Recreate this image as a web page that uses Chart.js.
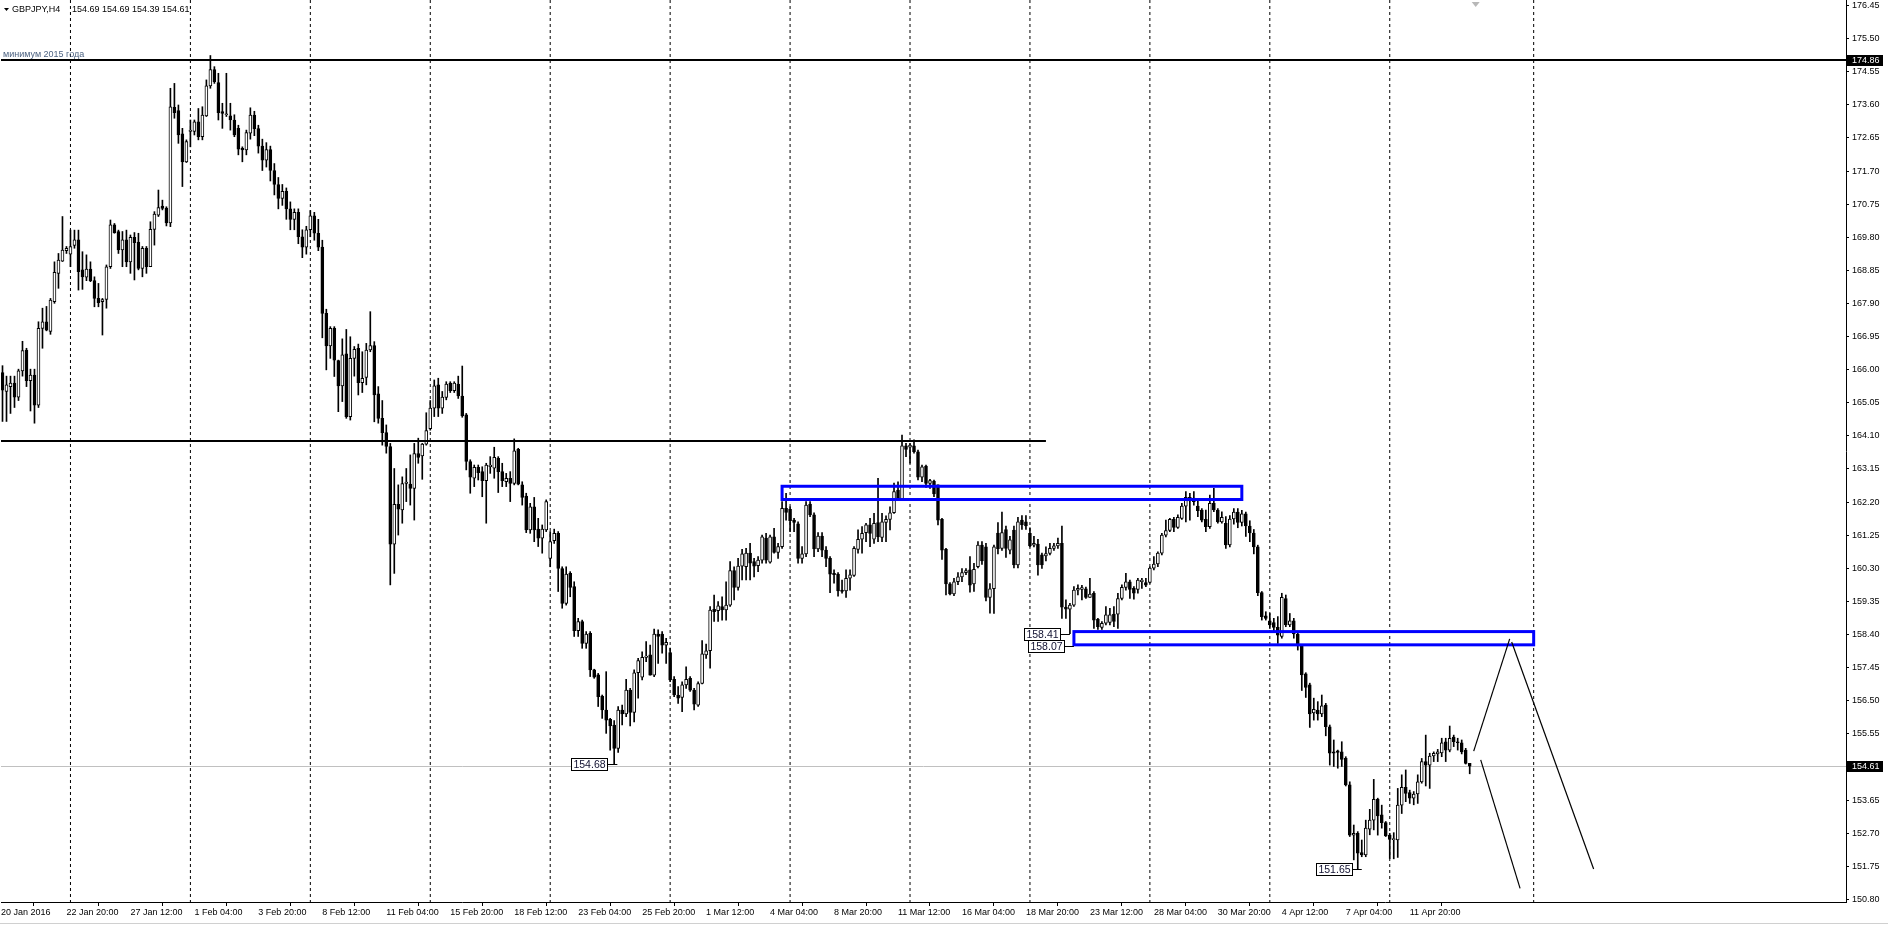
<!DOCTYPE html>
<html>
<head>
<meta charset="utf-8">
<script src="https://cdn.jsdelivr.net/npm/chart.js@4.4.1/dist/chart.umd.min.js"></script>
<style>
  html, body { margin: 0; padding: 0; background: #fff; overflow: hidden; }
  canvas { display: block; }
</style>
</head>
<body>
<canvas id="chart" width="1888" height="926"></canvas>
<script>
// ─── GBPJPY, H4 — свечи (индекс бара 1 = первый видимый бар от 20 Jan 2016) ───

const FIRST_BAR = 1;

const OPEN = [
  165.90,165.36,165.50,165.60,165.20,165.95,166.55,165.67,165.83,164.97,
  167.17,167.36,167.08,167.94,168.75,169.10,169.40,169.30,169.55,169.71,
  168.85,168.64,168.87,168.54,168.03,167.94,168.00,168.94,170.14,169.95,
  169.42,169.71,169.08,169.78,169.65,168.89,169.47,168.94,170.01,170.42,
  170.68,170.62,170.20,173.51,173.42,172.75,171.95,172.82,172.82,173.10,
  172.67,173.27,174.13,174.60,174.22,173.39,173.30,173.27,173.15,172.91,
  172.34,172.29,172.77,173.29,172.90,172.40,172.00,172.30,171.70,171.30,
  170.90,171.10,170.60,170.30,170.50,169.80,169.50,170.00,170.40,169.90,
  169.50,167.60,166.67,167.17,166.25,165.52,166.44,164.64,166.31,166.60,
  165.61,165.76,166.55,166.68,165.29,164.59,164.18,163.78,160.98,162.12,
  161.96,162.72,162.70,162.58,163.58,163.51,163.85,164.29,164.88,165.55,
  164.88,165.19,165.60,165.38,165.57,165.23,164.69,163.35,162.87,163.18,
  163.06,162.80,163.20,163.16,163.44,163.06,162.77,162.87,162.72,163.70,
  162.68,162.36,161.39,162.05,161.41,161.15,161.39,160.57,161.08,161.29,
  160.28,159.28,160.14,159.76,158.50,158.76,158.13,158.42,157.37,157.23,
  156.62,156.22,155.95,155.79,155.12,156.22,156.11,156.79,156.15,157.29,
  157.16,157.73,157.80,157.22,158.40,158.40,158.08,157.87,157.10,156.65,
  156.58,156.94,157.13,156.79,156.36,156.98,157.80,157.92,159.11,159.07,
  159.19,159.09,159.23,160.22,159.74,160.35,160.33,160.72,160.48,160.36,
  160.52,161.15,160.46,161.19,160.74,160.91,162.01,161.98,161.67,161.56,
  160.57,160.70,162.13,161.82,160.84,161.21,160.81,160.57,160.14,160.12,
  159.66,159.64,160.00,160.08,160.83,161.12,161.31,161.53,161.12,161.60,
  161.17,161.60,161.69,161.88,162.53,162.27,163.80,163.76,163.80,163.63,
  162.90,163.22,162.72,162.79,162.68,161.69,160.83,159.84,159.55,159.90,
  160.04,160.16,160.24,159.84,160.33,160.95,160.90,159.45,159.70,161.30,
  160.86,161.40,160.81,161.38,160.38,161.67,161.62,161.29,160.95,160.98,
  160.67,160.64,160.71,160.86,160.93,161.00,159.17,159.11,159.23,159.66,
  159.68,159.70,159.45,159.57,158.82,158.59,158.71,158.73,158.97,158.97,
  159.42,159.74,159.90,159.71,159.68,159.90,159.88,159.88,160.29,160.41,
  160.72,161.24,161.37,161.69,161.46,161.72,162.07,162.32,162.30,162.07,
  161.96,161.69,161.48,162.15,161.96,161.62,161.58,160.96,161.70,161.90,
  161.60,161.85,161.50,161.30,160.90,159.59,158.92,158.78,158.73,158.59,
  158.33,159.42,158.66,158.78,158.40,158.06,157.26,156.94,156.14,156.22,
  156.11,156.36,155.74,155.02,155.05,155.02,154.83,154.07,152.63,152.68,
  152.13,152.06,152.80,153.06,153.66,153.21,152.99,152.63,152.50,152.49,
  153.49,154.00,153.85,153.69,153.81,154.16,154.74,154.64,154.90,154.96,
  154.99,155.31,155.07,155.44,155.31,155.28,155.07,154.69
];

const HIGH = [
  166.10,165.80,165.80,165.80,166.00,166.80,166.60,166.00,166.00,167.36,
  167.75,167.80,168.03,169.08,169.32,170.38,169.52,169.99,169.99,169.99,
  169.37,169.28,169.08,168.65,168.46,168.03,168.99,170.28,170.18,169.99,
  169.95,169.99,169.85,169.92,169.90,169.52,169.52,170.23,170.52,171.14,
  170.85,170.66,174.06,174.20,173.58,172.91,172.58,173.15,173.15,173.48,
  173.53,174.30,175.00,174.68,174.49,173.63,174.49,173.63,173.30,173.00,
  172.38,172.86,173.50,173.40,173.00,172.60,172.50,172.40,171.90,171.50,
  171.30,171.20,170.80,170.60,170.60,170.00,170.10,170.55,170.50,170.30,
  169.70,167.72,167.22,167.22,166.26,166.87,167.14,166.93,166.65,166.72,
  166.50,166.74,167.65,166.79,165.50,165.10,164.40,163.87,163.15,162.68,
  162.91,163.15,163.54,163.87,164.02,163.87,164.75,165.10,165.69,165.74,
  165.36,165.64,165.64,165.64,165.80,166.09,164.73,163.40,163.25,163.25,
  163.20,163.30,163.49,163.76,163.49,163.30,163.01,163.06,164.00,163.73,
  162.77,162.44,162.15,162.32,161.72,161.53,162.25,161.34,161.41,161.34,
  160.33,160.33,160.19,159.90,158.85,158.80,158.47,158.47,157.39,157.27,
  156.65,157.32,155.98,155.92,156.32,156.36,157.10,156.84,157.37,157.70,
  157.89,158.18,158.08,158.54,158.52,158.47,158.28,158.00,157.18,156.89,
  157.03,157.46,157.18,156.84,157.03,158.21,158.11,159.19,159.52,159.33,
  159.47,159.90,160.48,160.33,160.57,160.83,160.86,161.00,160.57,160.62,
  161.24,161.29,161.24,161.43,161.00,162.20,162.44,162.05,161.72,161.62,
  160.91,162.20,162.20,161.88,161.31,161.31,160.91,160.62,160.24,160.16,
  159.95,160.24,160.24,160.91,161.39,161.48,161.58,161.72,161.86,162.87,
  161.86,161.79,162.05,162.73,162.77,164.11,163.87,163.87,163.97,163.68,
  163.25,163.25,162.84,162.82,162.68,161.72,160.86,159.88,160.00,160.16,
  160.28,160.28,160.62,160.43,161.05,161.05,161.00,159.85,160.95,161.60,
  161.90,161.50,161.20,161.50,161.75,161.80,161.80,161.45,161.20,161.12,
  160.72,160.90,161.00,161.00,161.15,161.50,159.38,159.28,159.76,159.81,
  159.80,159.75,160.00,159.62,158.85,158.76,159.19,159.14,159.19,159.57,
  159.81,160.14,159.95,159.76,160.00,160.00,160.00,160.33,160.62,160.76,
  161.29,161.67,161.72,161.75,161.82,162.15,162.49,162.44,162.49,162.25,
  162.00,161.96,162.39,162.58,162.00,161.91,161.77,161.80,162.00,162.00,
  161.95,161.90,161.65,161.40,160.95,159.62,159.04,158.99,158.85,158.90,
  159.57,159.52,158.99,158.85,158.47,158.09,157.29,156.99,156.56,156.46,
  156.65,156.41,155.79,155.36,155.07,155.31,154.88,154.16,152.92,152.73,
  152.49,153.06,153.37,154.23,153.69,153.49,153.02,152.68,152.70,153.97,
  154.36,154.50,153.92,153.88,154.36,154.83,155.50,154.98,155.02,155.09,
  155.41,155.41,155.76,155.50,155.41,155.36,155.12,154.69
];

const LOW = [
  164.50,164.50,164.73,164.90,165.10,165.80,165.50,164.80,164.45,164.90,
  166.60,167.10,167.00,167.89,168.32,169.09,169.32,168.94,169.47,168.27,
  168.29,168.54,168.51,167.79,167.79,166.98,167.75,168.89,169.90,169.32,
  168.94,168.94,168.75,168.56,168.85,168.65,168.75,168.94,169.56,170.38,
  170.57,170.11,170.09,173.20,172.48,171.24,171.93,172.38,172.72,172.58,
  172.58,173.25,174.06,174.20,173.15,172.91,173.25,172.86,172.67,172.15,
  171.95,172.15,172.60,172.70,172.20,171.70,171.80,171.40,171.00,170.60,
  170.70,170.30,170.00,170.00,169.60,169.20,169.30,169.80,169.70,169.40,
  166.90,165.98,166.31,165.79,164.78,165.07,164.59,164.54,165.80,165.26,
  165.33,165.55,166.50,164.49,164.45,163.82,163.59,159.81,160.14,161.24,
  161.58,162.20,162.10,161.67,163.30,162.84,163.82,164.25,164.64,164.64,
  164.73,165.12,165.33,165.33,165.16,164.62,163.11,162.44,162.63,162.82,
  162.34,161.58,163.01,162.87,162.46,162.63,162.63,162.20,162.68,162.68,
  162.10,161.31,161.29,161.05,160.91,160.72,161.34,160.33,161.00,159.62,
  159.14,159.23,159.47,158.33,158.33,157.99,157.99,157.18,157.13,156.32,
  155.98,155.55,155.07,154.68,155.00,155.79,156.03,155.76,155.88,156.56,
  157.08,157.61,157.22,157.18,157.56,157.85,157.56,157.03,156.60,156.41,
  156.17,156.84,156.75,156.22,156.32,156.97,157.70,157.42,158.76,158.76,
  158.80,158.80,159.19,159.38,159.66,159.95,159.95,159.95,160.04,160.19,
  160.43,160.43,160.43,160.72,160.57,160.86,161.67,161.34,161.34,160.43,
  160.43,160.62,161.77,160.62,160.76,160.62,160.33,159.59,159.86,159.49,
  159.57,159.45,159.66,160.05,160.72,160.72,161.05,160.91,161.00,161.05,
  161.05,161.05,161.39,161.86,162.25,162.25,163.49,163.30,163.59,162.82,
  162.77,162.61,162.58,162.34,161.53,160.54,159.52,159.52,159.50,159.82,
  159.90,160.10,159.60,159.62,160.30,160.40,159.35,159.00,158.99,160.70,
  160.80,160.60,160.70,160.30,160.30,161.40,161.40,160.90,160.90,160.09,
  160.28,160.50,160.67,160.80,160.86,158.85,158.85,158.41,159.19,159.52,
  159.38,159.42,159.45,158.56,158.53,158.53,158.66,158.66,158.61,158.56,
  159.38,159.66,159.42,159.40,159.57,159.71,159.76,159.86,160.24,160.33,
  160.67,161.19,161.34,161.34,161.43,161.69,161.62,161.67,162.10,161.77,
  161.62,161.34,161.43,161.91,161.58,161.58,160.86,160.90,161.55,161.45,
  161.50,161.20,161.05,160.70,159.50,158.80,158.80,158.56,158.47,158.13,
  158.28,158.61,158.61,158.28,157.94,156.78,156.58,155.72,155.93,155.93,
  156.03,155.48,154.64,154.60,154.55,154.60,154.04,152.59,151.92,151.65,
  152.01,152.01,152.64,152.78,152.63,152.83,152.59,151.96,151.95,151.99,
  153.25,153.59,153.54,153.50,153.54,154.12,154.04,153.97,154.74,154.74,
  154.88,154.74,155.02,155.17,155.07,154.96,154.67,154.39
];

const CLOSE = [
  165.40,165.55,165.60,165.20,165.95,166.53,165.67,165.83,164.97,167.17,
  167.36,167.12,167.98,168.78,169.13,169.42,169.47,169.52,169.71,168.80,
  168.65,168.87,168.54,168.03,167.91,168.00,168.94,170.14,169.92,169.42,
  169.71,169.08,169.78,169.63,168.89,169.47,168.94,170.01,170.45,170.64,
  170.61,170.20,173.53,173.36,172.72,171.95,172.53,172.86,173.10,172.67,
  173.29,174.13,174.60,174.25,173.36,173.34,173.31,173.15,172.72,172.31,
  172.29,172.79,173.29,172.90,172.40,172.00,172.30,171.70,171.30,170.90,
  171.10,170.60,170.30,170.50,169.80,169.50,170.00,170.40,169.90,169.50,
  167.60,166.67,167.17,166.26,165.52,166.41,164.64,166.31,166.57,165.61,
  165.74,166.55,166.68,165.26,164.59,164.18,163.78,160.98,162.12,161.98,
  162.72,162.76,162.58,163.58,163.47,163.85,164.24,164.88,165.52,164.88,
  165.20,165.57,165.38,165.60,165.23,164.66,163.35,162.90,163.18,163.03,
  162.80,163.25,163.25,163.47,163.06,162.80,162.87,162.72,163.66,162.70,
  162.32,161.39,162.05,161.39,161.15,161.41,162.20,161.05,161.29,160.28,
  159.28,160.12,159.74,158.50,158.76,158.13,158.40,157.37,157.16,156.60,
  156.22,155.93,155.76,155.12,156.22,156.11,156.79,156.15,157.29,157.64,
  157.73,157.77,157.22,158.40,158.33,158.08,158.16,157.08,156.65,156.56,
  156.94,157.10,156.79,156.39,156.98,157.83,157.92,159.09,159.04,159.21,
  159.09,159.23,160.22,159.74,160.35,160.70,160.72,160.43,160.35,160.52,
  161.19,160.52,161.19,160.74,160.91,162.01,161.89,161.65,161.60,160.57,
  160.70,162.10,161.82,160.84,161.21,160.81,160.57,160.12,160.10,159.64,
  159.62,160.00,160.10,160.86,161.12,161.29,161.53,161.29,161.58,161.19,
  161.62,161.69,161.88,162.49,162.27,163.80,163.70,163.82,163.63,162.90,
  163.20,162.72,162.80,162.42,161.67,160.81,159.84,159.55,159.90,160.04,
  160.16,160.22,159.80,160.26,160.95,160.50,159.45,159.70,160.90,160.85,
  161.31,160.86,161.10,160.38,161.62,161.53,161.50,160.93,161.00,160.38,
  160.38,160.71,160.86,160.93,161.00,159.17,159.11,159.23,159.66,159.71,
  159.73,159.45,159.55,158.80,158.61,158.71,158.95,158.95,158.76,159.42,
  159.74,159.90,159.68,159.57,159.95,159.95,159.80,160.29,160.41,160.72,
  161.24,161.37,161.69,161.46,161.75,162.07,162.32,162.22,162.20,161.94,
  161.67,161.48,162.15,161.96,161.62,161.75,160.96,161.70,161.90,161.60,
  161.85,161.50,161.30,160.90,159.59,158.90,158.85,158.66,158.59,158.37,
  159.45,158.66,158.78,158.40,158.06,157.23,156.87,156.11,156.24,156.11,
  156.34,155.74,154.98,154.98,155.00,154.80,154.07,152.63,152.68,152.11,
  152.06,152.83,153.06,153.66,153.18,152.99,152.61,152.51,152.50,153.49,
  154.00,153.83,153.69,153.81,154.16,154.74,154.64,154.90,154.98,155.02,
  155.28,155.07,155.41,155.31,155.28,155.02,154.69,154.61
];

// ─── Шкала времени: подписи через каждые 16 баров ────────────────────────────
const TIME_TICKS = [0.625, 17, 33, 49, 65, 81, 97, 113, 129, 145, 161, 177,
  193, 209, 225, 241, 257, 273, 289, 305, 321, 337, 353];
const TIME_LABELS = ["20 Jan 2016", "22 Jan 20:00", "27 Jan 12:00", "1 Feb 04:00",
  "3 Feb 20:00", "8 Feb 12:00", "11 Feb 04:00", "15 Feb 20:00", "18 Feb 12:00",
  "23 Feb 04:00", "25 Feb 20:00", "1 Mar 12:00", "4 Mar 04:00", "8 Mar 20:00",
  "11 Mar 12:00", "16 Mar 04:00", "18 Mar 20:00", "23 Mar 12:00", "28 Mar 04:00",
  "30 Mar 20:00", "4 Apr 12:00", "7 Apr 04:00", "11 Apr 20:00"];

// понедельники — вертикальная сетка
const WEEK_STARTS = [18, 48, 78, 108, 138, 168, 198, 228, 258, 288, 318, 348, 384];

// ─── Шкала цены ──────────────────────────────────────────────────────────────
const PRICE_TICKS = [150.80, 151.75, 152.70, 153.65, 154.60, 155.55, 156.50,
  157.45, 158.40, 159.35, 160.30, 161.25, 162.20, 163.15, 164.10, 165.05,
  166.00, 166.95, 167.90, 168.85, 169.80, 170.75, 171.70, 172.65, 173.60,
  174.55, 175.50, 176.45];

const X_MIN = 0.625, X_MAX = 462.125;
const Y_MIN = 150.711, Y_MAX = 176.593;

// ─── Объекты на графике ──────────────────────────────────────────────────────
const LEVEL_2015 = 174.86;
const LEVEL_2015_TEXT = "минимум 2015 года";
const SUPPORT_LEVEL = 163.94;
const SUPPORT_END_BAR = 262;
const BID = 154.61;
const HEADER = ["GBPJPY,H4", "154.69 154.69 154.39 154.61"];

// [бар начала, бар конца, нижняя цена, верхняя цена]
const ZONES = [
  [196, 311, 162.26, 162.64],
  [269, 384, 158.09, 158.47]
];

// [бар1, цена1, бар2, цена2]
const FORECAST_LINES = [
  [369, 155.04, 378, 158.26],
  [378.5, 158.17, 399, 151.66],
  [370.75, 154.79, 380.6, 151.10]
];

// [бар привязки, цена]
const PRICE_TAGS = [
  [154.8, 154.68],
  [268, 158.41],
  [269, 158.07],
  [341, 151.65]
];

const FONT = "Liberation Sans";

// ─── Данные для Chart.js ─────────────────────────────────────────────────────
const barIdx = OPEN.map((o, k) => FIRST_BAR + k);
const wickData = barIdx.map((b, k) => ({ x: b, y: [LOW[k], HIGH[k]] }));
const bodyData = barIdx.map((b, k) => ({ x: b, y: [OPEN[k], CLOSE[k]] }));
const bodyFill = OPEN.map((o, k) => CLOSE[k] >= o ? "#ffffff" : "#000000");

// ─── Рисуем объекты MT4 поверх/под свечами ───────────────────────────────────
const mtObjects = {
  id: "mtObjects",
  beforeDatasetsDraw(chart) {
    const { ctx, chartArea: a, scales: { x, y } } = chart;
    ctx.save();
    ctx.beginPath();
    ctx.rect(a.left, a.top, a.right - a.left, a.bottom - a.top);
    ctx.clip();

    // недельная сетка
    ctx.strokeStyle = "#000";
    ctx.lineWidth = 1;
    ctx.setLineDash([3, 3]);
    WEEK_STARTS.forEach(b => {
      const px = x.getPixelForValue(b);
      ctx.beginPath();
      ctx.moveTo(px, a.top);
      ctx.lineTo(px, a.bottom);
      ctx.stroke();
    });
    ctx.setLineDash([]);

    // линия bid
    const by = Math.round(y.getPixelForValue(BID)) + 0.5;
    ctx.strokeStyle = "#c0c0c0";
    ctx.beginPath();
    ctx.moveTo(a.left, by);
    ctx.lineTo(a.right, by);
    ctx.stroke();
    ctx.restore();
  },

  afterDatasetsDraw(chart) {
    const { ctx, chartArea: a, scales: { x, y } } = chart;
    ctx.save();
    ctx.beginPath();
    ctx.rect(a.left, a.top, a.right - a.left, a.bottom - a.top);
    ctx.clip();

    // горизонтальные уровни
    ctx.strokeStyle = "#000";
    ctx.lineWidth = 2;
    const ly = Math.round(y.getPixelForValue(LEVEL_2015));
    ctx.beginPath(); ctx.moveTo(a.left, ly); ctx.lineTo(a.right, ly); ctx.stroke();
    const sy = Math.round(y.getPixelForValue(SUPPORT_LEVEL));
    ctx.beginPath(); ctx.moveTo(a.left, sy); ctx.lineTo(x.getPixelForValue(SUPPORT_END_BAR), sy); ctx.stroke();

    // подпись уровня
    ctx.fillStyle = "#4d6382";
    ctx.font = `9px "${FONT}"`;
    ctx.textAlign = "left";
    ctx.textBaseline = "alphabetic";
    ctx.fillText(LEVEL_2015_TEXT, a.left + 2, ly - 3);

    // зоны
    ctx.strokeStyle = "#0000ff";
    ctx.lineWidth = 3;
    ZONES.forEach(([b1, b2, lo, hi]) => {
      const x1 = x.getPixelForValue(b1), x2 = x.getPixelForValue(b2);
      const y1 = y.getPixelForValue(hi), y2 = y.getPixelForValue(lo);
      ctx.strokeRect(x1, y1, x2 - x1, y2 - y1);
    });

    // прогнозные линии
    ctx.strokeStyle = "#000";
    ctx.lineWidth = 1.2;
    FORECAST_LINES.forEach(([b1, p1, b2, p2]) => {
      ctx.beginPath();
      ctx.moveTo(x.getPixelForValue(b1), y.getPixelForValue(p1));
      ctx.lineTo(x.getPixelForValue(b2), y.getPixelForValue(p2));
      ctx.stroke();
    });

    // ценовые метки
    ctx.lineWidth = 1;
    ctx.font = `10.5px "${FONT}"`;
    ctx.textAlign = "center";
    ctx.textBaseline = "middle";
    PRICE_TAGS.forEach(([b, p]) => {
      const ax = x.getPixelForValue(b);
      const ay = Math.round(y.getPixelForValue(p)) + 0.5;
      const right = Math.round(ax - 10) + 0.5;
      const w = 36, h = 12;
      ctx.strokeStyle = "#000";
      ctx.beginPath(); ctx.moveTo(right, ay); ctx.lineTo(ax, ay); ctx.stroke();
      ctx.fillStyle = "#fff";
      ctx.fillRect(right - w, ay - h / 2, w, h);
      ctx.strokeRect(right - w, ay - h / 2, w, h);
      ctx.fillStyle = "#101030";
      ctx.fillText(p.toFixed(2), right - w / 2, ay + 0.5);
    });

    // маркер сдвига графика
    const tx = x.getPixelForValue(369.5);
    ctx.fillStyle = "#b8b8b8";
    ctx.beginPath();
    ctx.moveTo(tx - 4, a.top + 2); ctx.lineTo(tx + 4, a.top + 2); ctx.lineTo(tx, a.top + 7);
    ctx.closePath(); ctx.fill();
    ctx.restore();

    // заголовок
    ctx.save();
    ctx.fillStyle = "#000";
    ctx.beginPath();
    ctx.moveTo(4, 8); ctx.lineTo(9, 8); ctx.lineTo(6.5, 11); ctx.closePath(); ctx.fill();
    ctx.font = `9px "${FONT}"`;
    ctx.textBaseline = "middle";
    ctx.textAlign = "left";
    ctx.fillText(HEADER[0], 12, 10);
    ctx.fillText(HEADER[1], 72, 10);
    ctx.restore();
  },

  afterDraw(chart) {
    const { ctx, chartArea: a, scales: { y } } = chart;
    ctx.save();
    ctx.font = `9px "${FONT}"`;
    ctx.textBaseline = "middle";
    ctx.textAlign = "left";
    ctx.strokeStyle = "#000";
    ctx.fillStyle = "#000";
    ctx.lineWidth = 1;
    y.ticks.forEach(t => {
      const py = Math.round(y.getPixelForValue(t.value)) + 0.5;
      ctx.beginPath(); ctx.moveTo(a.right, py); ctx.lineTo(a.right + 3, py); ctx.stroke();
      ctx.fillText(t.value.toFixed(2), a.right + 6, py);
    });
    // подсвеченные цены на шкале
    [LEVEL_2015, BID].forEach(p => {
      const py = Math.round(y.getPixelForValue(p));
      ctx.fillStyle = "#000";
      ctx.fillRect(a.right + 1, py - 5, 36, 11);
      ctx.fillStyle = "#fff";
      ctx.fillText(p.toFixed(2), a.right + 6, py + 0.5);
    });
    // нижняя полоса
    ctx.strokeStyle = "#d0d0d0";
    ctx.beginPath(); ctx.moveTo(0, 923.5); ctx.lineTo(chart.width, 923.5); ctx.stroke();
    ctx.restore();
  }
};

new Chart(document.getElementById("chart"), {
  type: "bar",
  data: {
    datasets: [
      {
        label: "body",
        data: bodyData,
        backgroundColor: bodyFill,
        borderColor: "#000",
        borderWidth: 1,
        borderSkipped: false,
        barThickness: 3,
        minBarLength: 1,
        grouped: false,
        order: 0
      },
      {
        label: "wick",
        data: wickData,
        backgroundColor: "#000",
        borderWidth: 0,
        barThickness: 1,
        grouped: false,
        order: 1
      }
    ]
  },
  options: {
    responsive: false,
    animation: false,
    devicePixelRatio: 1,
    events: [],
    layout: { padding: 0 },
    plugins: { legend: { display: false }, tooltip: { enabled: false } },
    scales: {
      x: {
        type: "linear",
        min: X_MIN,
        max: X_MAX,
        offset: false,
        grid: { display: true, drawOnChartArea: false, drawTicks: true, tickLength: 4, color: "#000" },
        border: { display: true, color: "#000" },
        ticks: {
          autoSkip: false,
          maxRotation: 0,
          align: "start",
          padding: 1,
          color: "#000",
          font: { family: FONT, size: 9 },
          callback: (v, i) => TIME_LABELS[i]
        },
        afterBuildTicks: s => { s.ticks = TIME_TICKS.map(v => ({ value: v })); },
        afterFit: s => { s.height = 24; }
      },
      y: {
        position: "right",
        min: Y_MIN,
        max: Y_MAX,
        grid: { display: false },
        border: { display: true, color: "#000" },
        ticks: { display: false },
        afterBuildTicks: s => { s.ticks = PRICE_TICKS.map(v => ({ value: v })); },
        afterFit: s => { s.width = 42; }
      }
    }
  },
  plugins: [mtObjects]
});
</script>
</body>
</html>
